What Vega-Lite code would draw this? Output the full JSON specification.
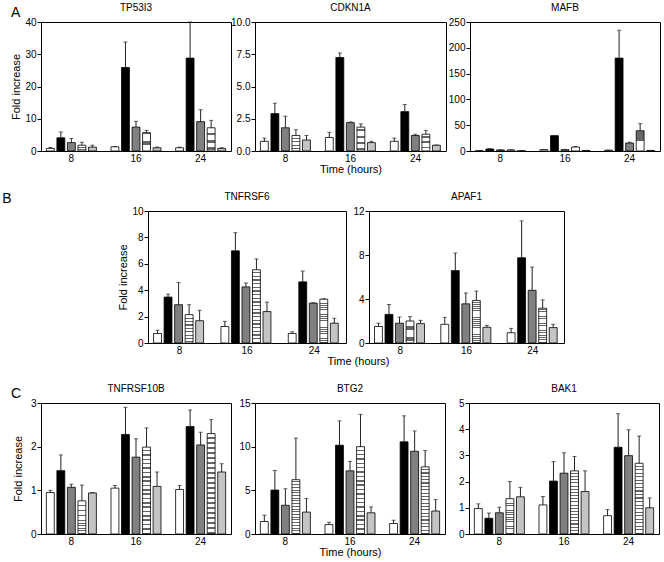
{
  "$schema": "https://vega.github.io/schema/vega-lite/v6.json",
  "padding": {"left": 2, "top": 2, "right": 0, "bottom": 0},
  "params": [
    {"name": "H", "value": {"gradient": "linear", "x1": 0, "y1": 0, "x2": 0, "y2": 1, "stops": [
      {"offset": 0, "color": "#fff"}, {"offset": 0.033, "color": "#fff"}, {"offset": 0.033, "color": "#666"}, {"offset": 0.05, "color": "#666"},
      {"offset": 0.05, "color": "#fff"}, {"offset": 0.083, "color": "#fff"}, {"offset": 0.083, "color": "#666"}, {"offset": 0.1, "color": "#666"},
      {"offset": 0.1, "color": "#fff"}, {"offset": 0.133, "color": "#fff"}, {"offset": 0.133, "color": "#666"}, {"offset": 0.15, "color": "#666"},
      {"offset": 0.15, "color": "#fff"}, {"offset": 0.183, "color": "#fff"}, {"offset": 0.183, "color": "#666"}, {"offset": 0.2, "color": "#666"},
      {"offset": 0.2, "color": "#fff"}, {"offset": 0.233, "color": "#fff"}, {"offset": 0.233, "color": "#666"}, {"offset": 0.25, "color": "#666"},
      {"offset": 0.25, "color": "#fff"}, {"offset": 0.283, "color": "#fff"}, {"offset": 0.283, "color": "#666"}, {"offset": 0.3, "color": "#666"},
      {"offset": 0.3, "color": "#fff"}, {"offset": 0.333, "color": "#fff"}, {"offset": 0.333, "color": "#666"}, {"offset": 0.35, "color": "#666"},
      {"offset": 0.35, "color": "#fff"}, {"offset": 0.383, "color": "#fff"}, {"offset": 0.383, "color": "#666"}, {"offset": 0.4, "color": "#666"},
      {"offset": 0.4, "color": "#fff"}, {"offset": 0.433, "color": "#fff"}, {"offset": 0.433, "color": "#666"}, {"offset": 0.45, "color": "#666"},
      {"offset": 0.45, "color": "#fff"}, {"offset": 0.483, "color": "#fff"}, {"offset": 0.483, "color": "#666"}, {"offset": 0.5, "color": "#666"},
      {"offset": 0.5, "color": "#fff"}, {"offset": 0.533, "color": "#fff"}, {"offset": 0.533, "color": "#666"}, {"offset": 0.55, "color": "#666"},
      {"offset": 0.55, "color": "#fff"}, {"offset": 0.583, "color": "#fff"}, {"offset": 0.583, "color": "#666"}, {"offset": 0.6, "color": "#666"},
      {"offset": 0.6, "color": "#fff"}, {"offset": 0.633, "color": "#fff"}, {"offset": 0.633, "color": "#666"}, {"offset": 0.65, "color": "#666"},
      {"offset": 0.65, "color": "#fff"}, {"offset": 0.683, "color": "#fff"}, {"offset": 0.683, "color": "#666"}, {"offset": 0.7, "color": "#666"},
      {"offset": 0.7, "color": "#fff"}, {"offset": 0.733, "color": "#fff"}, {"offset": 0.733, "color": "#666"}, {"offset": 0.75, "color": "#666"},
      {"offset": 0.75, "color": "#fff"}, {"offset": 0.783, "color": "#fff"}, {"offset": 0.783, "color": "#666"}, {"offset": 0.8, "color": "#666"},
      {"offset": 0.8, "color": "#fff"}, {"offset": 0.833, "color": "#fff"}, {"offset": 0.833, "color": "#666"}, {"offset": 0.85, "color": "#666"},
      {"offset": 0.85, "color": "#fff"}, {"offset": 0.883, "color": "#fff"}, {"offset": 0.883, "color": "#666"}, {"offset": 0.9, "color": "#666"},
      {"offset": 0.9, "color": "#fff"}, {"offset": 0.933, "color": "#fff"}, {"offset": 0.933, "color": "#666"}, {"offset": 0.95, "color": "#666"},
      {"offset": 0.95, "color": "#fff"}, {"offset": 0.983, "color": "#fff"}, {"offset": 0.983, "color": "#666"}, {"offset": 1, "color": "#666"}
    ]}},
    {"name": "D", "value": {"gradient": "linear", "x1": 0, "y1": 0, "x2": 0.15, "y2": 1, "stops": [
      {"offset": 0, "color": "#fff"}, {"offset": 0.08, "color": "#fff"}, {"offset": 0.08, "color": "#777"}, {"offset": 0.125, "color": "#777"},
      {"offset": 0.125, "color": "#fff"}, {"offset": 0.205, "color": "#fff"}, {"offset": 0.205, "color": "#777"}, {"offset": 0.25, "color": "#777"},
      {"offset": 0.25, "color": "#fff"}, {"offset": 0.33, "color": "#fff"}, {"offset": 0.33, "color": "#777"}, {"offset": 0.375, "color": "#777"},
      {"offset": 0.375, "color": "#fff"}, {"offset": 0.455, "color": "#fff"}, {"offset": 0.455, "color": "#777"}, {"offset": 0.5, "color": "#777"},
      {"offset": 0.5, "color": "#fff"}, {"offset": 0.58, "color": "#fff"}, {"offset": 0.58, "color": "#777"}, {"offset": 0.625, "color": "#777"},
      {"offset": 0.625, "color": "#fff"}, {"offset": 0.705, "color": "#fff"}, {"offset": 0.705, "color": "#777"}, {"offset": 0.75, "color": "#777"},
      {"offset": 0.75, "color": "#fff"}, {"offset": 0.83, "color": "#fff"}, {"offset": 0.83, "color": "#777"}, {"offset": 0.875, "color": "#777"},
      {"offset": 0.875, "color": "#fff"}, {"offset": 0.955, "color": "#fff"}, {"offset": 0.955, "color": "#777"}, {"offset": 1, "color": "#777"}
    ]}}
  ],
  "data": {"values": [
    {"g": "TP53I3", "t": 8, "s": "a", "v": 0.8, "hi": 1.1},
    {"g": "TP53I3", "t": 8, "s": "b", "v": 4.1, "hi": 5.9},
    {"g": "TP53I3", "t": 8, "s": "c", "v": 2.6, "hi": 3.9},
    {"g": "TP53I3", "t": 8, "s": "d", "v": 1.8, "hi": 2.7},
    {"g": "TP53I3", "t": 8, "s": "e", "v": 1.2, "hi": 1.8},
    {"g": "TP53I3", "t": 16, "s": "a", "v": 1.3, "hi": 1.4},
    {"g": "TP53I3", "t": 16, "s": "b", "v": 25.9, "hi": 33.8},
    {"g": "TP53I3", "t": 16, "s": "c", "v": 7.4, "hi": 9.2},
    {"g": "TP53I3", "t": 16, "s": "d", "v": 5.7, "hi": 6.4},
    {"g": "TP53I3", "t": 16, "s": "e", "v": 1.0, "hi": 1.2},
    {"g": "TP53I3", "t": 24, "s": "a", "v": 1.0, "hi": 1.2},
    {"g": "TP53I3", "t": 24, "s": "b", "v": 28.8, "hi": 40},
    {"g": "TP53I3", "t": 24, "s": "c", "v": 9.1, "hi": 12.8},
    {"g": "TP53I3", "t": 24, "s": "d", "v": 7.2, "hi": 9.5},
    {"g": "TP53I3", "t": 24, "s": "e", "v": 0.8, "hi": 1.0},
    {"g": "CDKN1A", "t": 8, "s": "a", "v": 0.75, "hi": 1.0},
    {"g": "CDKN1A", "t": 8, "s": "b", "v": 2.9, "hi": 3.7},
    {"g": "CDKN1A", "t": 8, "s": "c", "v": 1.8, "hi": 2.7},
    {"g": "CDKN1A", "t": 8, "s": "d", "v": 1.2, "hi": 1.65},
    {"g": "CDKN1A", "t": 8, "s": "e", "v": 0.85, "hi": 1.2},
    {"g": "CDKN1A", "t": 16, "s": "a", "v": 1.05, "hi": 1.45},
    {"g": "CDKN1A", "t": 16, "s": "b", "v": 7.25, "hi": 7.6},
    {"g": "CDKN1A", "t": 16, "s": "c", "v": 2.2, "hi": 2.25},
    {"g": "CDKN1A", "t": 16, "s": "d", "v": 1.85, "hi": 2.1},
    {"g": "CDKN1A", "t": 16, "s": "e", "v": 0.65, "hi": 0.75},
    {"g": "CDKN1A", "t": 24, "s": "a", "v": 0.75, "hi": 1.0},
    {"g": "CDKN1A", "t": 24, "s": "b", "v": 3.05, "hi": 3.6},
    {"g": "CDKN1A", "t": 24, "s": "c", "v": 1.2, "hi": 1.3},
    {"g": "CDKN1A", "t": 24, "s": "d", "v": 1.3, "hi": 1.6},
    {"g": "CDKN1A", "t": 24, "s": "e", "v": 0.45, "hi": 0.46},
    {"g": "MAFB", "t": 8, "s": "a", "v": 0.5, "hi": 0.6},
    {"g": "MAFB", "t": 8, "s": "b", "v": 3.9, "hi": 4.4},
    {"g": "MAFB", "t": 8, "s": "c", "v": 2.0, "hi": 2.3},
    {"g": "MAFB", "t": 8, "s": "d", "v": 2.0, "hi": 2.3},
    {"g": "MAFB", "t": 8, "s": "e", "v": 0.5, "hi": 0.6},
    {"g": "MAFB", "t": 16, "s": "a", "v": 2.6, "hi": 2.8},
    {"g": "MAFB", "t": 16, "s": "b", "v": 29.7, "hi": 29.8},
    {"g": "MAFB", "t": 16, "s": "c", "v": 2.6, "hi": 3.0},
    {"g": "MAFB", "t": 16, "s": "d", "v": 7.7, "hi": 8.5},
    {"g": "MAFB", "t": 16, "s": "e", "v": 1.0, "hi": 1.1},
    {"g": "MAFB", "t": 24, "s": "a", "v": 1.5, "hi": 1.6},
    {"g": "MAFB", "t": 24, "s": "b", "v": 180, "hi": 234},
    {"g": "MAFB", "t": 24, "s": "c", "v": 15.5, "hi": 17},
    {"g": "MAFB", "t": 24, "s": "d", "v": 39.4, "hi": 53},
    {"g": "MAFB", "t": 24, "s": "e", "v": 1.0, "hi": 1.1},
    {"g": "TNFRSF6", "t": 8, "s": "a", "v": 0.72, "hi": 0.97},
    {"g": "TNFRSF6", "t": 8, "s": "b", "v": 3.48, "hi": 3.7},
    {"g": "TNFRSF6", "t": 8, "s": "c", "v": 2.9, "hi": 4.58},
    {"g": "TNFRSF6", "t": 8, "s": "d", "v": 2.15, "hi": 2.9},
    {"g": "TNFRSF6", "t": 8, "s": "e", "v": 1.69, "hi": 2.48},
    {"g": "TNFRSF6", "t": 16, "s": "a", "v": 1.25, "hi": 1.64},
    {"g": "TNFRSF6", "t": 16, "s": "b", "v": 6.98, "hi": 8.36},
    {"g": "TNFRSF6", "t": 16, "s": "c", "v": 4.25, "hi": 4.55},
    {"g": "TNFRSF6", "t": 16, "s": "d", "v": 5.55, "hi": 6.37},
    {"g": "TNFRSF6", "t": 16, "s": "e", "v": 2.38, "hi": 3.1},
    {"g": "TNFRSF6", "t": 24, "s": "a", "v": 0.72, "hi": 0.85},
    {"g": "TNFRSF6", "t": 24, "s": "b", "v": 4.63, "hi": 5.45},
    {"g": "TNFRSF6", "t": 24, "s": "c", "v": 3.02, "hi": 3.05},
    {"g": "TNFRSF6", "t": 24, "s": "d", "v": 3.32, "hi": 3.35},
    {"g": "TNFRSF6", "t": 24, "s": "e", "v": 1.5, "hi": 1.87},
    {"g": "APAF1", "t": 8, "s": "a", "v": 1.5, "hi": 1.8},
    {"g": "APAF1", "t": 8, "s": "b", "v": 2.6, "hi": 3.5},
    {"g": "APAF1", "t": 8, "s": "c", "v": 1.8, "hi": 2.36},
    {"g": "APAF1", "t": 8, "s": "d", "v": 2.0, "hi": 2.4},
    {"g": "APAF1", "t": 8, "s": "e", "v": 1.76, "hi": 2.06},
    {"g": "APAF1", "t": 16, "s": "a", "v": 1.7, "hi": 2.33},
    {"g": "APAF1", "t": 16, "s": "b", "v": 6.58, "hi": 8.18},
    {"g": "APAF1", "t": 16, "s": "c", "v": 3.56, "hi": 4.55},
    {"g": "APAF1", "t": 16, "s": "d", "v": 3.86, "hi": 4.72},
    {"g": "APAF1", "t": 16, "s": "e", "v": 1.43, "hi": 1.6},
    {"g": "APAF1", "t": 24, "s": "a", "v": 0.93, "hi": 1.33},
    {"g": "APAF1", "t": 24, "s": "b", "v": 7.75, "hi": 11.1},
    {"g": "APAF1", "t": 24, "s": "c", "v": 4.79, "hi": 6.9},
    {"g": "APAF1", "t": 24, "s": "d", "v": 3.16, "hi": 3.92},
    {"g": "APAF1", "t": 24, "s": "e", "v": 1.4, "hi": 1.7},
    {"g": "TNFRSF10B", "t": 8, "s": "a", "v": 0.95, "hi": 1.0},
    {"g": "TNFRSF10B", "t": 8, "s": "b", "v": 1.45, "hi": 1.81},
    {"g": "TNFRSF10B", "t": 8, "s": "c", "v": 1.07, "hi": 1.14},
    {"g": "TNFRSF10B", "t": 8, "s": "d", "v": 0.76, "hi": 1.12},
    {"g": "TNFRSF10B", "t": 8, "s": "e", "v": 0.94, "hi": 0.95},
    {"g": "TNFRSF10B", "t": 16, "s": "a", "v": 1.05, "hi": 1.11},
    {"g": "TNFRSF10B", "t": 16, "s": "b", "v": 2.28, "hi": 2.9},
    {"g": "TNFRSF10B", "t": 16, "s": "c", "v": 1.76, "hi": 2.18},
    {"g": "TNFRSF10B", "t": 16, "s": "d", "v": 1.99, "hi": 2.43},
    {"g": "TNFRSF10B", "t": 16, "s": "e", "v": 1.09, "hi": 1.42},
    {"g": "TNFRSF10B", "t": 24, "s": "a", "v": 1.02, "hi": 1.11},
    {"g": "TNFRSF10B", "t": 24, "s": "b", "v": 2.46, "hi": 2.84},
    {"g": "TNFRSF10B", "t": 24, "s": "c", "v": 2.04, "hi": 2.33},
    {"g": "TNFRSF10B", "t": 24, "s": "d", "v": 2.3, "hi": 2.62},
    {"g": "TNFRSF10B", "t": 24, "s": "e", "v": 1.42, "hi": 1.61},
    {"g": "BTG2", "t": 8, "s": "a", "v": 1.43, "hi": 2.16},
    {"g": "BTG2", "t": 8, "s": "b", "v": 5.03, "hi": 7.27},
    {"g": "BTG2", "t": 8, "s": "c", "v": 3.29, "hi": 5.18},
    {"g": "BTG2", "t": 8, "s": "d", "v": 6.22, "hi": 10.98},
    {"g": "BTG2", "t": 8, "s": "e", "v": 2.51, "hi": 4.06},
    {"g": "BTG2", "t": 16, "s": "a", "v": 1.08, "hi": 1.35},
    {"g": "BTG2", "t": 16, "s": "b", "v": 10.17, "hi": 12.95},
    {"g": "BTG2", "t": 16, "s": "c", "v": 7.23, "hi": 8.31},
    {"g": "BTG2", "t": 16, "s": "d", "v": 10.0, "hi": 13.7},
    {"g": "BTG2", "t": 16, "s": "e", "v": 2.43, "hi": 3.1},
    {"g": "BTG2", "t": 24, "s": "a", "v": 1.2, "hi": 1.58},
    {"g": "BTG2", "t": 24, "s": "b", "v": 10.55, "hi": 13.53},
    {"g": "BTG2", "t": 24, "s": "c", "v": 9.47, "hi": 11.8},
    {"g": "BTG2", "t": 24, "s": "d", "v": 7.69, "hi": 9.55},
    {"g": "BTG2", "t": 24, "s": "e", "v": 2.63, "hi": 3.94},
    {"g": "BAK1", "t": 8, "s": "a", "v": 0.97, "hi": 1.15},
    {"g": "BAK1", "t": 8, "s": "b", "v": 0.6, "hi": 0.8},
    {"g": "BAK1", "t": 8, "s": "c", "v": 0.81, "hi": 1.02},
    {"g": "BAK1", "t": 8, "s": "d", "v": 1.35, "hi": 2.0},
    {"g": "BAK1", "t": 8, "s": "e", "v": 1.42, "hi": 1.78},
    {"g": "BAK1", "t": 16, "s": "a", "v": 1.11, "hi": 1.43},
    {"g": "BAK1", "t": 16, "s": "b", "v": 2.02, "hi": 2.76},
    {"g": "BAK1", "t": 16, "s": "c", "v": 2.32, "hi": 3.1},
    {"g": "BAK1", "t": 16, "s": "d", "v": 2.41, "hi": 2.96},
    {"g": "BAK1", "t": 16, "s": "e", "v": 1.62, "hi": 2.41},
    {"g": "BAK1", "t": 24, "s": "a", "v": 0.7, "hi": 0.93},
    {"g": "BAK1", "t": 24, "s": "b", "v": 3.31, "hi": 4.59},
    {"g": "BAK1", "t": 24, "s": "c", "v": 2.99, "hi": 3.98},
    {"g": "BAK1", "t": 24, "s": "d", "v": 2.7, "hi": 3.74},
    {"g": "BAK1", "t": 24, "s": "e", "v": 1.0, "hi": 1.38}
  ]},
  "config": {
    "font": "Liberation Sans",
    "view": {"stroke": "#000", "strokeWidth": 1},
    "axis": {"labelFont": "Liberation Sans", "labelFontSize": 10, "labelColor": "#000", "titleFont": "Liberation Sans", "titleFontSize": 11, "titleFontWeight": "normal", "titleColor": "#000", "tickColor": "#000", "grid": false, "domain": false},
    "axisX": {"ticks": false, "labelAngle": 0, "labelPadding": 2, "titlePadding": 0},
    "axisY": {"tickSize": 4, "labelPadding": 1, "titlePadding": 3},
    "title": {"font": "Liberation Sans", "fontSize": 10, "fontWeight": "normal", "offset": 0, "color": "#000"}
  },
  "spacing": 16,
  "vconcat": [
    {
      "title": {"text": "A", "orient": "none", "anchor": "start", "align": "left", "baseline": "top", "fontSize": 14, "dx": -30, "dy": -16},
      "bounds": "flush",
      "spacing": 24,
      "hconcat": [
        {
          "width": 190, "height": 129, "title": "TP53I3",
          "transform": [{"filter": "datum.g == 'TP53I3'"}],
          "encoding": {
            "x": {"field": "t", "type": "ordinal", "scale": {"paddingInner": 0.21, "paddingOuter": 0.075}, "axis": {"title": null}},
            "xOffset": {"field": "s", "type": "nominal", "scale": {"paddingInner": 0.25, "paddingOuter": 0.05}},
            "y": {"field": "v", "type": "quantitative", "scale": {"domain": [0, 40], "nice": false}, "axis": {"values": [0, 10, 20, 30, 40], "title": "Fold increase", "minExtent": 15}}
          },
          "layer": [
            {"mark": {"type": "bar", "stroke": "#000", "strokeWidth": 0.8},
             "encoding": {"fill": {"field": "s", "type": "nominal", "legend": null, "scale": {"domain": ["a", "b", "c", "d", "e"], "range": ["#ffffff", "#000000", "#808080", {"expr": "H"}, "#c4c4c4"]}}}},
            {"mark": {"type": "rule", "stroke": "#222", "strokeWidth": 1}, "encoding": {"y2": {"field": "hi"}}},
            {"mark": {"type": "tick", "size": 4, "thickness": 1, "color": "#222", "orient": "horizontal"},
             "encoding": {"y": {"field": "hi", "type": "quantitative"}}}
          ]
        },
        {
          "width": 191, "height": 129, "title": "CDKN1A",
          "transform": [{"filter": "datum.g == 'CDKN1A'"}],
          "encoding": {
            "x": {"field": "t", "type": "ordinal", "scale": {"paddingInner": 0.21, "paddingOuter": 0.075}, "axis": {"title": "Time (hours)"}},
            "xOffset": {"field": "s", "type": "nominal", "scale": {"paddingInner": 0.25, "paddingOuter": 0.05}},
            "y": {"field": "v", "type": "quantitative", "scale": {"domain": [0, 10], "nice": false}, "axis": {"values": [0, 2.5, 5, 7.5, 10], "format": ".1f", "title": null}}
          },
          "layer": [
            {"mark": {"type": "bar", "stroke": "#000", "strokeWidth": 0.8},
             "encoding": {"fill": {"field": "s", "type": "nominal", "legend": null, "scale": {"domain": ["a", "b", "c", "d", "e"], "range": ["#ffffff", "#000000", "#808080", {"expr": "H"}, "#c4c4c4"]}}}},
            {"mark": {"type": "rule", "stroke": "#222", "strokeWidth": 1}, "encoding": {"y2": {"field": "hi"}}},
            {"mark": {"type": "tick", "size": 4, "thickness": 1, "color": "#222", "orient": "horizontal"},
             "encoding": {"y": {"field": "hi", "type": "quantitative"}}}
          ]
        },
        {
          "width": 190, "height": 129, "title": "MAFB",
          "transform": [{"filter": "datum.g == 'MAFB'"}],
          "encoding": {
            "x": {"field": "t", "type": "ordinal", "scale": {"paddingInner": 0.21, "paddingOuter": 0.075}, "axis": {"title": null}},
            "xOffset": {"field": "s", "type": "nominal", "scale": {"paddingInner": 0.25, "paddingOuter": 0.05}},
            "y": {"field": "v", "type": "quantitative", "scale": {"domain": [0, 250], "nice": false}, "axis": {"values": [0, 50, 100, 150, 200, 250], "title": null}}
          },
          "layer": [
            {"mark": {"type": "bar", "stroke": "#000", "strokeWidth": 0.8},
             "encoding": {"fill": {"field": "s", "type": "nominal", "legend": null, "scale": {"domain": ["a", "b", "c", "d", "e"], "range": ["#ffffff", "#000000", "#808080", {"expr": "D"}, "#c4c4c4"]}}}},
            {"mark": {"type": "rule", "stroke": "#222", "strokeWidth": 1}, "encoding": {"y2": {"field": "hi"}}},
            {"mark": {"type": "tick", "size": 4, "thickness": 1, "color": "#222", "orient": "horizontal"},
             "encoding": {"y": {"field": "hi", "type": "quantitative"}}}
          ]
        }
      ]
    },
    {
      "title": {"text": "B", "orient": "left", "anchor": "end", "angle": 0, "baseline": "top", "fontSize": 14, "offset": 20},
      "bounds": "flush",
      "spacing": 23,
      "hconcat": [
        {
          "width": 84, "height": 132,
          "data": {"values": []},
          "mark": {"type": "text"},
          "encoding": {},
          "view": {"stroke": null}
        },
        {
          "width": 198, "height": 132, "title": "TNFRSF6",
          "transform": [{"filter": "datum.g == 'TNFRSF6'"}],
          "encoding": {
            "x": {"field": "t", "type": "ordinal", "scale": {"paddingInner": 0.21, "paddingOuter": 0.075}, "axis": {"title": "Time (hours)", "titleX": 210, "titleAlign": "center"}},
            "xOffset": {"field": "s", "type": "nominal", "scale": {"paddingInner": 0.25, "paddingOuter": 0.05}},
            "y": {"field": "v", "type": "quantitative", "scale": {"domain": [0, 10], "nice": false}, "axis": {"values": [0, 2, 4, 6, 8, 10], "title": "Fold increase", "minExtent": 15}}
          },
          "layer": [
            {"mark": {"type": "bar", "stroke": "#000", "strokeWidth": 0.8},
             "encoding": {"fill": {"field": "s", "type": "nominal", "legend": null, "scale": {"domain": ["a", "b", "c", "d", "e"], "range": ["#ffffff", "#000000", "#808080", {"expr": "H"}, "#c4c4c4"]}}}},
            {"mark": {"type": "rule", "stroke": "#222", "strokeWidth": 1}, "encoding": {"y2": {"field": "hi"}}},
            {"mark": {"type": "tick", "size": 4, "thickness": 1, "color": "#222", "orient": "horizontal"},
             "encoding": {"y": {"field": "hi", "type": "quantitative"}}}
          ]
        },
        {
          "width": 195, "height": 132, "title": "APAF1",
          "transform": [{"filter": "datum.g == 'APAF1'"}],
          "encoding": {
            "x": {"field": "t", "type": "ordinal", "scale": {"paddingInner": 0.21, "paddingOuter": 0.075}, "axis": {"title": null}},
            "xOffset": {"field": "s", "type": "nominal", "scale": {"paddingInner": 0.25, "paddingOuter": 0.05}},
            "y": {"field": "v", "type": "quantitative", "scale": {"domain": [0, 12], "nice": false}, "axis": {"values": [0, 4, 8, 12], "title": null}}
          },
          "layer": [
            {"mark": {"type": "bar", "stroke": "#000", "strokeWidth": 0.8},
             "encoding": {"fill": {"field": "s", "type": "nominal", "legend": null, "scale": {"domain": ["a", "b", "c", "d", "e"], "range": ["#ffffff", "#000000", "#808080", {"expr": "H"}, "#c4c4c4"]}}}},
            {"mark": {"type": "rule", "stroke": "#222", "strokeWidth": 1}, "encoding": {"y2": {"field": "hi"}}},
            {"mark": {"type": "tick", "size": 4, "thickness": 1, "color": "#222", "orient": "horizontal"},
             "encoding": {"y": {"field": "hi", "type": "quantitative"}}}
          ]
        }
      ]
    },
    {
      "title": {"text": "C", "orient": "none", "anchor": "start", "align": "left", "baseline": "top", "fontSize": 14, "dx": -30, "dy": -16},
      "bounds": "flush",
      "spacing": 24,
      "hconcat": [
        {
          "width": 190, "height": 131, "title": "TNFRSF10B",
          "transform": [{"filter": "datum.g == 'TNFRSF10B'"}],
          "encoding": {
            "x": {"field": "t", "type": "ordinal", "scale": {"paddingInner": 0.21, "paddingOuter": 0.075}, "axis": {"title": null}},
            "xOffset": {"field": "s", "type": "nominal", "scale": {"paddingInner": 0.25, "paddingOuter": 0.05}},
            "y": {"field": "v", "type": "quantitative", "scale": {"domain": [0, 3], "nice": false}, "axis": {"values": [0, 1, 2, 3], "title": "Fold increase", "minExtent": 15}}
          },
          "layer": [
            {"mark": {"type": "bar", "stroke": "#000", "strokeWidth": 0.8},
             "encoding": {"fill": {"field": "s", "type": "nominal", "legend": null, "scale": {"domain": ["a", "b", "c", "d", "e"], "range": ["#ffffff", "#000000", "#808080", {"expr": "H"}, "#c4c4c4"]}}}},
            {"mark": {"type": "rule", "stroke": "#222", "strokeWidth": 1}, "encoding": {"y2": {"field": "hi"}}},
            {"mark": {"type": "tick", "size": 4, "thickness": 1, "color": "#222", "orient": "horizontal"},
             "encoding": {"y": {"field": "hi", "type": "quantitative"}}}
          ]
        },
        {
          "width": 190, "height": 131, "title": "BTG2",
          "transform": [{"filter": "datum.g == 'BTG2'"}],
          "encoding": {
            "x": {"field": "t", "type": "ordinal", "scale": {"paddingInner": 0.21, "paddingOuter": 0.075}, "axis": {"title": "Time (hours)"}},
            "xOffset": {"field": "s", "type": "nominal", "scale": {"paddingInner": 0.25, "paddingOuter": 0.05}},
            "y": {"field": "v", "type": "quantitative", "scale": {"domain": [0, 15], "nice": false}, "axis": {"values": [0, 5, 10, 15], "title": null}}
          },
          "layer": [
            {"mark": {"type": "bar", "stroke": "#000", "strokeWidth": 0.8},
             "encoding": {"fill": {"field": "s", "type": "nominal", "legend": null, "scale": {"domain": ["a", "b", "c", "d", "e"], "range": ["#ffffff", "#000000", "#808080", {"expr": "H"}, {"expr": "H"}]}}}},
            {"mark": {"type": "rule", "stroke": "#222", "strokeWidth": 1}, "encoding": {"y2": {"field": "hi"}}},
            {"mark": {"type": "tick", "size": 4, "thickness": 1, "color": "#222", "orient": "horizontal"},
             "encoding": {"y": {"field": "hi", "type": "quantitative"}}}
          ]
        },
        {
          "width": 190, "height": 131, "title": "BAK1",
          "transform": [{"filter": "datum.g == 'BAK1'"}],
          "encoding": {
            "x": {"field": "t", "type": "ordinal", "scale": {"paddingInner": 0.21, "paddingOuter": 0.075}, "axis": {"title": null}},
            "xOffset": {"field": "s", "type": "nominal", "scale": {"paddingInner": 0.25, "paddingOuter": 0.05}},
            "y": {"field": "v", "type": "quantitative", "scale": {"domain": [0, 5], "nice": false}, "axis": {"values": [0, 1, 2, 3, 4, 5], "title": null}}
          },
          "layer": [
            {"mark": {"type": "bar", "stroke": "#000", "strokeWidth": 0.8},
             "encoding": {"fill": {"field": "s", "type": "nominal", "legend": null, "scale": {"domain": ["a", "b", "c", "d", "e"], "range": ["#ffffff", "#000000", "#808080", {"expr": "H"}, "#c4c4c4"]}}}},
            {"mark": {"type": "rule", "stroke": "#222", "strokeWidth": 1}, "encoding": {"y2": {"field": "hi"}}},
            {"mark": {"type": "tick", "size": 4, "thickness": 1, "color": "#222", "orient": "horizontal"},
             "encoding": {"y": {"field": "hi", "type": "quantitative"}}}
          ]
        }
      ]
    }
  ]
}
